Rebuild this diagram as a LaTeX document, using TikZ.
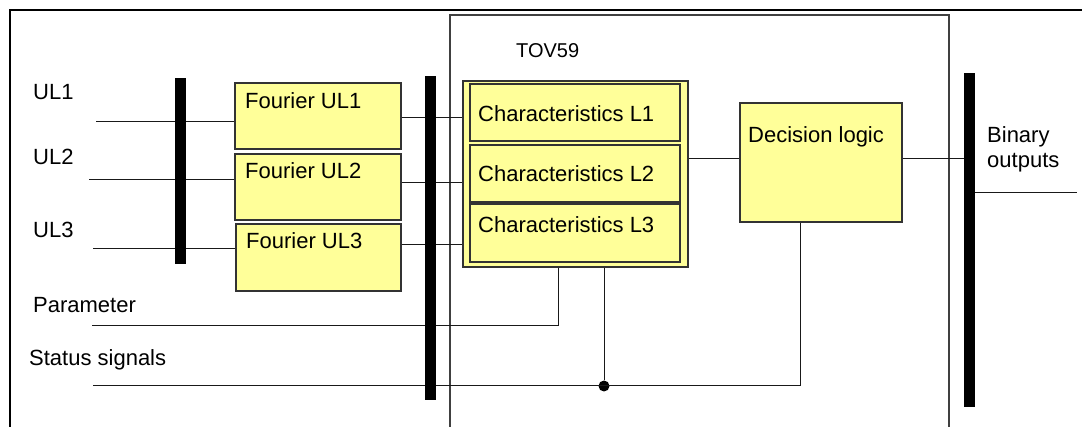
\documentclass[tikz,border=0pt]{standalone}
\usepackage{fontspec}
\setmainfont{Liberation Sans}
\definecolor{yel}{HTML}{FFFF99}
\begin{document}
\begin{tikzpicture}[x=1pt,y=-1pt,
  box/.style={draw=black!80, line width=1.3pt, fill=yel, inner sep=0pt, rectangle},
  bus/.style={fill=black, draw=none, inner sep=0pt, rectangle, minimum width=11pt},
  txt/.style={font=\fontsize{22}{25}\selectfont, inner sep=0pt, anchor=base west},
  wire/.style={line width=1pt, black!90}]
\useasboundingbox (0,0) rectangle (1082,427);
\fill[white] (0,0) rectangle (1082,427);
% frames
\draw[line width=2pt, black] (10,427) -- (10,10) -- (1082,10);
\draw[line width=1.3pt, black!75] (450,427) -- (450,15) -- (949,15) -- (949,427);
\node[font=\fontsize{20}{24}\selectfont, inner sep=0pt, anchor=base west] (tov) at (516,58) {TOV59};
% coordinates
\coordinate (in1) at (96,122);
\coordinate (in2) at (89,180);
\coordinate (in3) at (93,249);
\coordinate (par) at (92,326);
\coordinate (st) at (93,386);
\coordinate (y1) at (0,118);
\coordinate (y2) at (0,183);
\coordinate (y3) at (0,245);
\coordinate (ym) at (0,159);
\coordinate (px) at (558,0);
\coordinate (dx) at (800,0);
\coordinate (out) at (1077,193);
% boxes
\node[box, minimum width=166pt, minimum height=66pt] (f1) at (318,116) {};
\node[box, minimum width=166pt, minimum height=66pt] (f2) at (318,187) {};
\node[box, minimum width=165pt, minimum height=67pt] (f3) at (318.5,257.5) {};
\node[box, minimum width=225pt, minimum height=186pt] (grp) at (575.5,174) {};
\node[box, minimum width=210pt, minimum height=57pt] (c1) at (575,112.5) {};
\node[box, minimum width=210pt, minimum height=57pt] (c2) at (575,173.5) {};
\node[box, minimum width=210pt, minimum height=58pt] (c3) at (575,233) {};
\node[box, minimum width=162pt, minimum height=119pt] (dl) at (821,162.5) {};
% wires
\draw[wire] (in1) -- (in1 -| f1.west);
\draw[wire] (in2) -- (in2 -| f2.west);
\draw[wire] (in3) -- (in3 -| f3.west);
\draw[wire] (f1.east |- y1) -- (grp.west |- y1);
\draw[wire] (f2.east |- y2) -- (grp.west |- y2);
\draw[wire] (f3.east |- y3) -- (grp.west |- y3);
\draw[wire] (grp.east |- ym) -- (dl.west |- ym);
\node[circle, fill=black, minimum size=11pt, inner sep=0pt] (dot) at (604,386) {};
\draw[wire] (par) -- (par -| px) -- (grp.south -| px);
\draw[wire] (st) -- (st -| dx) -- (dl.south -| dx);
\draw[wire] (dot) -- (dot |- grp.south);
% buses
\node[bus, minimum height=186pt] (lbus) at (180.5,171) {};
\node[bus, minimum height=324pt] (mbus) at (430.5,238) {};
\node[bus, minimum height=334pt] (rbus) at (969.5,240) {};
\draw[wire] (dl.east |- ym) -- (rbus.west |- ym);
\draw[wire] (rbus.east |- out) -- (out);
% texts
\node[txt] (t1) at (33,100) {UL1};
\node[txt] (t2) at (33,165) {UL2};
\node[txt] (t3) at (33,238) {UL3};
\node[txt] (tp) at (33,313) {Parameter};
\node[txt] (ts) at (29,366) {Status signals};
\node[txt] (tf1) at (245,109) {Fourier UL1};
\node[txt] (tf2) at (245,179) {Fourier UL2};
\node[txt] (tf3) at (246,249) {Fourier UL3};
\node[txt] (tc1) at (478,122) {Characteristics L1};
\node[txt] (tc2) at (478,182) {Characteristics L2};
\node[txt] (tc3) at (478,233) {Characteristics L3};
\node[txt] (td) at (748,143) {Decision logic};
\node[txt] (tb1) at (987,143) {Binary};
\node[txt] (tb2) at (987,168) {outputs};
\end{tikzpicture}
\end{document}
